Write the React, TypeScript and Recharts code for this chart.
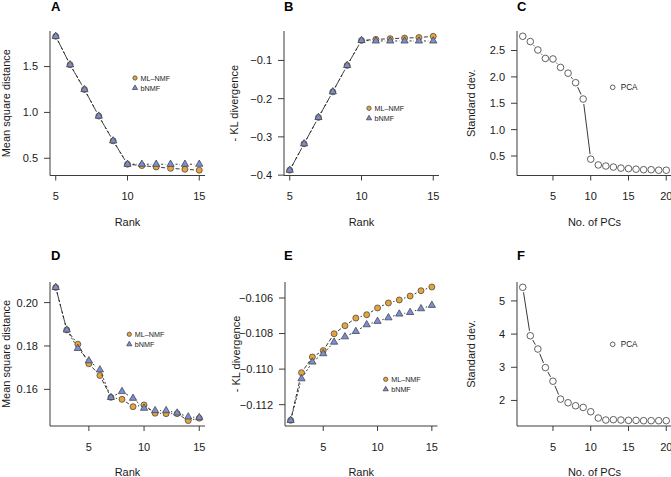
import React from 'react';
import { ComposedChart, Line, XAxis, YAxis, Label } from 'recharts';

const FONT = '"Liberation Sans", Arial, Helvetica, sans-serif';
const INK = '#1a1a1a';
const AXIS = '#3c3c3c';
const ORANGE = '#e6a43e';
const BLUE = '#7b8ed3';
const EDGE = '#3a3a3a';
const GAP = 5;

// top row: rank 5..15
const rankTop = [5, 6, 7, 8, 9, 10, 11, 12, 13, 14, 15];
const mseMlTop = [1.83, 1.52, 1.25, 0.96, 0.69, 0.435, 0.42, 0.405, 0.39, 0.38, 0.37];
const mseBTop = [1.83, 1.52, 1.25, 0.96, 0.69, 0.435, 0.435, 0.435, 0.435, 0.435, 0.435];
const klMlTop = [-0.387, -0.318, -0.249, -0.182, -0.113, -0.0476, -0.045, -0.043, -0.0416, -0.04, -0.037];
const klBTop = [-0.387, -0.318, -0.249, -0.182, -0.113, -0.0476, -0.049, -0.049, -0.049, -0.049, -0.049];

// PCs 1..20
const pcs = [1, 2, 3, 4, 5, 6, 7, 8, 9, 10, 11, 12, 13, 14, 15, 16, 17, 18, 19, 20];
const sdTop = [2.77, 2.67, 2.51, 2.35, 2.34, 2.18, 2.07, 1.89, 1.58, 0.44, 0.33, 0.31, 0.29, 0.27, 0.26, 0.25, 0.24, 0.24, 0.23, 0.23];
const sdBottom = [5.41, 3.95, 3.55, 2.99, 2.58, 2.04, 1.93, 1.84, 1.79, 1.66, 1.47, 1.41, 1.42, 1.41, 1.4, 1.4, 1.39, 1.39, 1.39, 1.39];

// bottom row: rank 2..15
const rankBottom = [2, 3, 4, 5, 6, 7, 8, 9, 10, 11, 12, 13, 14, 15];
const mseMlBottom = [0.207, 0.1874, 0.1808, 0.1718, 0.1664, 0.1563, 0.1554, 0.152, 0.1528, 0.149, 0.1488, 0.1488, 0.1456, 0.1467];
const mseBBottom = [0.207, 0.1874, 0.1789, 0.1732, 0.169, 0.1563, 0.159, 0.1559, 0.1513, 0.1502, 0.1502, 0.1491, 0.1473, 0.147];
const klMlBottom = [-0.11288, -0.1102, -0.10932, -0.10896, -0.10801, -0.10756, -0.10713, -0.10694, -0.10656, -0.10628, -0.10611, -0.10589, -0.10559, -0.10538];
const klBBottom = [-0.11288, -0.11054, -0.1096, -0.10913, -0.10848, -0.10818, -0.10788, -0.1075, -0.10731, -0.10711, -0.1069, -0.10681, -0.1066, -0.10641];

const seriesNames = ['ML\u2013NMF', 'bNMF'];

const rows2 = (xs: number[], a: number[], b: number[]) => xs.map((x, i) => ({ x, ml: a[i], b: b[i] }));
const rows1 = (xs: number[], a: number[]) => xs.map((x, i) => ({ x, sd: a[i] }));

const minus = (s: string) => s.replace('-', '\u2212');

type Kind = 'circle' | 'triangle' | 'open';

function Marker({ kind, cx, cy, scale = 1 }: { kind: Kind; cx: number; cy: number; scale?: number }) {
  if (kind === 'triangle') {
    const s = 2.7 * scale;
    const d = `M${cx},${cy - 1.555 * s} L${cx + 1.347 * s},${cy + 0.778 * s} L${cx - 1.347 * s},${cy + 0.778 * s} Z`;
    return <path d={d} fill={BLUE} stroke={EDGE} strokeWidth={0.7} />;
  }
  if (kind === 'circle') {
    return <circle cx={cx} cy={cy} r={3 * scale} fill={ORANGE} stroke={EDGE} strokeWidth={0.7} />;
  }
  return <circle cx={cx} cy={cy} r={3.3 * scale} fill="none" stroke={EDGE} strokeWidth={0.8} />;
}

// R type="b": point plus a line to the next point with a gap round each point
function makeDot(kind: Kind, dash?: string) {
  return (p: any) => {
    const { cx, cy, index, points } = p;
    const next = points && points[index + 1];
    let seg = null;
    if (next) {
      const dx = next.x - cx;
      const dy = next.y - cy;
      const d = Math.hypot(dx, dy);
      if (d > 2 * GAP) {
        const ux = dx / d;
        const uy = dy / d;
        seg = (
          <line
            x1={cx + ux * GAP}
            y1={cy + uy * GAP}
            x2={next.x - ux * GAP}
            y2={next.y - uy * GAP}
            stroke="#222"
            strokeWidth={0.9}
            strokeDasharray={dash}
          />
        );
      }
    }
    return (
      <g key={`dot-${kind}-${index}`}>
        {seg}
        <Marker kind={kind} cx={cx} cy={cy} />
      </g>
    );
  };
}

type PanelProps = {
  left: number;
  top: number;
  w: number;
  h: number;
  rows: any[];
  series: { key: string; kind: Kind; dash?: string }[];
  xDomain: [number, number];
  xTicks: number[];
  yDomain: [number, number];
  yTicks: number[];
  fmt: (v: number) => string;
  xLabel: string;
  yLabel: string;
  yLabelGap: number;
};

function Panel(props: PanelProps) {
  const { left, top, w, h, rows, series, xDomain, xTicks, yDomain, yTicks, fmt, xLabel, yLabel, yLabelGap } = props;
  const YW = 60;
  const MT = 12;
  const MR = 2;
  const XH = 56;
  const tickStyle = { fill: INK, fontSize: 11, fontFamily: FONT };
  return (
    <div style={{ position: 'absolute', left: left - YW, top: top - MT }}>
      <ComposedChart width={YW + w + MR} height={MT + h + XH} data={rows} margin={{ top: MT, right: MR, bottom: 0, left: 0 }}>
        <XAxis
          type="number"
          dataKey="x"
          domain={xDomain}
          ticks={xTicks}
          interval={0}
          height={XH}
          stroke={AXIS}
          tickSize={5}
          tickMargin={12}
          tick={tickStyle}
        >
          <Label value={xLabel} position="insideBottom" offset={XH - 50} fill={INK} fontSize={11} fontFamily={FONT} />
        </XAxis>
        <YAxis
          type="number"
          domain={yDomain}
          ticks={yTicks}
          interval={0}
          width={YW}
          stroke={AXIS}
          tickSize={6}
          tickMargin={6}
          tick={tickStyle}
          tickFormatter={fmt}
        >
          <Label
            value={yLabel}
            angle={-90}
            position="insideLeft"
            offset={YW - yLabelGap}
            fill={INK}
            fontSize={11}
            fontFamily={FONT}
            style={{ textAnchor: 'middle' }}
          />
        </YAxis>
        {series.map((s) => (
          <Line
            key={s.key}
            dataKey={s.key}
            stroke="none"
            isAnimationActive={false}
            activeDot={false}
            dot={makeDot(s.kind, s.dash)}
          />
        ))}
      </ComposedChart>
    </div>
  );
}

function NmfLegend({ x, y }: { x: number; y: number }) {
  return (
    <g>
      <Marker kind="circle" cx={x} cy={y} scale={0.72} />
      <Marker kind="triangle" cx={x} cy={y + 10} scale={0.72} />
      <text x={x + 5.5} y={y + 2.6} fontSize={7.2} fontFamily={FONT} fill={INK}>{seriesNames[0]}</text>
      <text x={x + 5.5} y={y + 12.6} fontSize={7.2} fontFamily={FONT} fill={INK}>{seriesNames[1]}</text>
    </g>
  );
}

function PcaLegend({ x, y }: { x: number; y: number }) {
  return (
    <g>
      <Marker kind="open" cx={x} cy={y} scale={0.7} />
      <text x={x + 8} y={y + 3} fontSize={8.2} fontFamily={FONT} fill={INK}>PCA</text>
    </g>
  );
}

const nmfSeries = [
  { key: 'ml', kind: 'circle' as Kind, dash: '4 2' },
  { key: 'b', kind: 'triangle' as Kind, dash: '2 2' },
];
const pcaSeries = [{ key: 'sd', kind: 'open' as Kind }];

export default function App() {
  const W = 155;
  const letter = { fontSize: 13, fontWeight: 700, fontFamily: FONT, fill: '#000' };
  return (
    <div style={{ position: 'absolute', left: 0, top: 0, width: 671, height: 477, overflow: 'hidden', background: '#fff' }}>
      <Panel
        left={50} top={31} w={W} h={144.5}
        rows={rows2(rankTop, mseMlTop, mseBTop)} series={nmfSeries}
        xDomain={[4.6, 15.4]} xTicks={[5, 10, 15]}
        yDomain={[0.312, 1.888]} yTicks={[0.5, 1.0, 1.5]} fmt={(v) => v.toFixed(1)}
        xLabel="Rank" yLabel="Mean square distance" yLabelGap={44}
      />
      <Panel
        left={283.5} top={31} w={W} h={144.5}
        rows={rows2(rankTop, klMlTop, klBTop)} series={nmfSeries}
        xDomain={[4.6, 15.4]} xTicks={[5, 10, 15]}
        yDomain={[-0.401, -0.023]} yTicks={[-0.4, -0.3, -0.2, -0.1]} fmt={(v) => minus(v.toFixed(1))}
        xLabel="Rank" yLabel="- KL divergence" yLabelGap={50}
      />
      <Panel
        left={516.6} top={31} w={W} h={144.5}
        rows={rows1(pcs, sdTop)} series={pcaSeries}
        xDomain={[0.24, 20.76]} xTicks={[5, 10, 15, 20]}
        yDomain={[0.13, 2.87]} yTicks={[0.5, 1.0, 1.5, 2.0, 2.5]} fmt={(v) => v.toFixed(1)}
        xLabel="No. of PCs" yLabel="Standard dev." yLabelGap={46}
      />
      <Panel
        left={49.7} top={282} w={W} h={144}
        rows={rows2(rankBottom, mseMlBottom, mseBBottom)} series={nmfSeries}
        xDomain={[1.48, 15.52]} xTicks={[5, 10, 15]}
        yDomain={[0.1431, 0.2095]} yTicks={[0.16, 0.18, 0.2]} fmt={(v) => v.toFixed(2)}
        xLabel="Rank" yLabel="Mean square distance" yLabelGap={43.7}
      />
      <Panel
        left={284.5} top={282} w={152.5} h={144}
        rows={rows2(rankBottom, klMlBottom, klBBottom)} series={nmfSeries}
        xDomain={[1.48, 15.52]} xTicks={[5, 10, 15]}
        yDomain={[-0.1132, -0.1051]} yTicks={[-0.112, -0.11, -0.108, -0.106]} fmt={(v) => minus(v.toFixed(3))}
        xLabel="Rank" yLabel="- KL divergence" yLabelGap={49}
      />
      <Panel
        left={516.6} top={282} w={W} h={144}
        rows={rows1(pcs, sdBottom)} series={pcaSeries}
        xDomain={[0.24, 20.76]} xTicks={[5, 10, 15, 20]}
        yDomain={[1.23, 5.57]} yTicks={[2, 3, 4, 5]} fmt={(v) => String(v)}
        xLabel="No. of PCs" yLabel="Standard dev." yLabelGap={46}
      />
      <svg width={671} height={477} style={{ position: 'absolute', left: 0, top: 0, pointerEvents: 'none' }}>
        <text x={51} y={11} {...letter}>A</text>
        <text x={284} y={11} {...letter}>B</text>
        <text x={517} y={11} {...letter}>C</text>
        <text x={51} y={260} {...letter}>D</text>
        <text x={284} y={260} {...letter}>E</text>
        <text x={517} y={260} {...letter}>F</text>
        <NmfLegend x={135} y={78} />
        <NmfLegend x={369} y={108.3} />
        <PcaLegend x={612.7} y={87.3} />
        <NmfLegend x={129.3} y={334.3} />
        <NmfLegend x={385.7} y={379.3} />
        <PcaLegend x={612.7} y={344.3} />
      </svg>
    </div>
  );
}
